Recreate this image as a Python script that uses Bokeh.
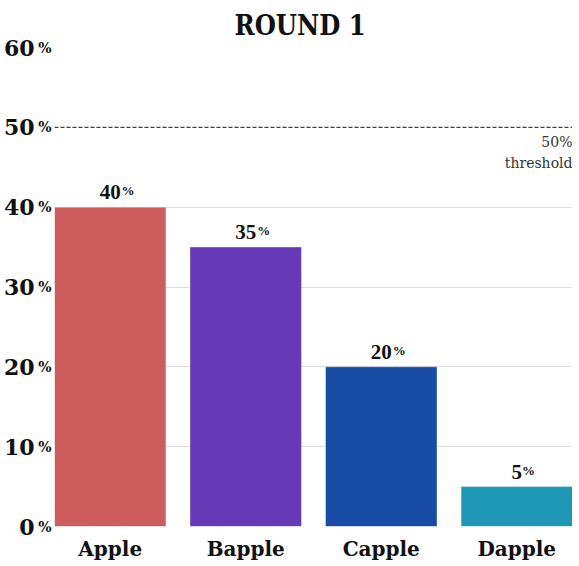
from bokeh.plotting import figure
from bokeh.models import (ColumnDataSource, FactorRange, Range1d, LabelSet, Label, Span,
                          FixedTicker, LinearAxis)
from bokeh.embed import file_html
from bokeh.resources import INLINE

# ---- data ----
categories = ["Apple", "Bapple", "Capple", "Dapple"]
values = [40, 35, 20, 5]
colors = ["#cd5c5c", "#6639b7", "#184ba3", "#1e97b5"]
y_ticks = [0, 10, 20, 30, 40, 50, 60]
threshold = 50
threshold_text = "50%\nthreshold"
title_text = "ROUND 1"

FONT = "DejaVu Serif"
FW, FH = 518, 479

p = figure(frame_width=FW, frame_height=FH, output_backend="svg", toolbar_location=None,
           x_range=FactorRange(*categories, range_padding=-0.0445),
           y_range=Range1d(0, 60),
           min_border_left=47, min_border_right=0, min_border_top=40, min_border_bottom=39)
p.outline_line_color = None
p.background_fill_color = "white"
p.border_fill_color = "white"

p.title.text = title_text
p.title.text_font = "DejaVu Serif Condensed"
p.title.text_font_size = "27px"
p.title.text_font_style = "bold"
p.title.align = "left"
p.title.offset = 180
p.title.standoff = 14
p.title.text_color = "#111111"

src = ColumnDataSource(dict(
    cat=categories, val=values, color=colors,
    num=[str(v) for v in values],
    pct=["%"] * len(values),
    pct_off=[len(str(v)) * 6.2 - 1 for v in values],
))
p.vbar(x="cat", top="val", bottom=0, width=0.822, source=src,
       fill_color="color", line_color="white", line_alpha=0.35, line_width=1)

# value labels
p.add_layout(LabelSet(x="cat", y="val", text="num", source=src, text_align="center",
                      text_baseline="alphabetic", y_offset=8, text_font=FONT,
                      text_font_size="21px", text_font_style="bold", text_color="#111111"))
p.add_layout(LabelSet(x="cat", y="val", text="pct", source=src, text_align="left",
                      text_baseline="alphabetic", x_offset="pct_off", y_offset=12,
                      text_font=FONT, text_font_size="13px", text_font_style="bold",
                      text_color="#111111"))

# inner left axis: "%" signs
ax_in = p.yaxis[0]
ax_in.ticker = FixedTicker(ticks=y_ticks)
ax_in.major_label_overrides = {t: "%" for t in y_ticks}
ax_in.major_label_standoff = 3
ax_in.major_label_text_font = FONT
ax_in.major_label_text_font_size = "14px"
ax_in.major_label_text_font_style = "bold"
ax_in.major_label_text_color = "#111111"

# outer left axis: numbers
ax_out = LinearAxis(ticker=FixedTicker(ticks=y_ticks), major_label_standoff=1,
                    major_label_text_font=FONT, major_label_text_font_size="22px",
                    major_label_text_font_style="bold", major_label_text_color="#111111")
p.add_layout(ax_out, "left")

for ax in (ax_in, ax_out):
    ax.axis_line_color = None
    ax.major_tick_line_color = None
    ax.minor_tick_line_color = None
    ax.major_tick_out = 0
    ax.major_tick_in = 0
    ax.minor_tick_out = 0

p.xaxis.axis_line_color = None
p.xaxis.major_tick_line_color = None
p.xaxis.minor_tick_line_color = None
p.xaxis.major_tick_out = 0
p.xaxis.major_tick_in = 0
p.xaxis.major_label_standoff = 10
p.xaxis.major_label_text_font = FONT
p.xaxis.major_label_text_font_size = "20px"
p.xaxis.major_label_text_font_style = "bold"
p.xaxis.major_label_text_color = "#111111"

p.xgrid.grid_line_color = None
p.ygrid.ticker = FixedTicker(ticks=[t for t in y_ticks if t != threshold])
p.ygrid.grid_line_color = "#dddddd"
p.ygrid.grid_line_width = 1

p.add_layout(Span(location=threshold, dimension="width", line_color="#111111",
                  line_dash="4 2", line_width=1))
p.add_layout(Label(x=FW, x_units="screen", y=threshold, text=threshold_text,
                   text_align="right", text_baseline="top", y_offset=-7,
                   text_line_height=1.3,
                   text_font=FONT, text_font_size="14px", text_color="#333333"))

open("out.html", "w").write(file_html(p, INLINE))
